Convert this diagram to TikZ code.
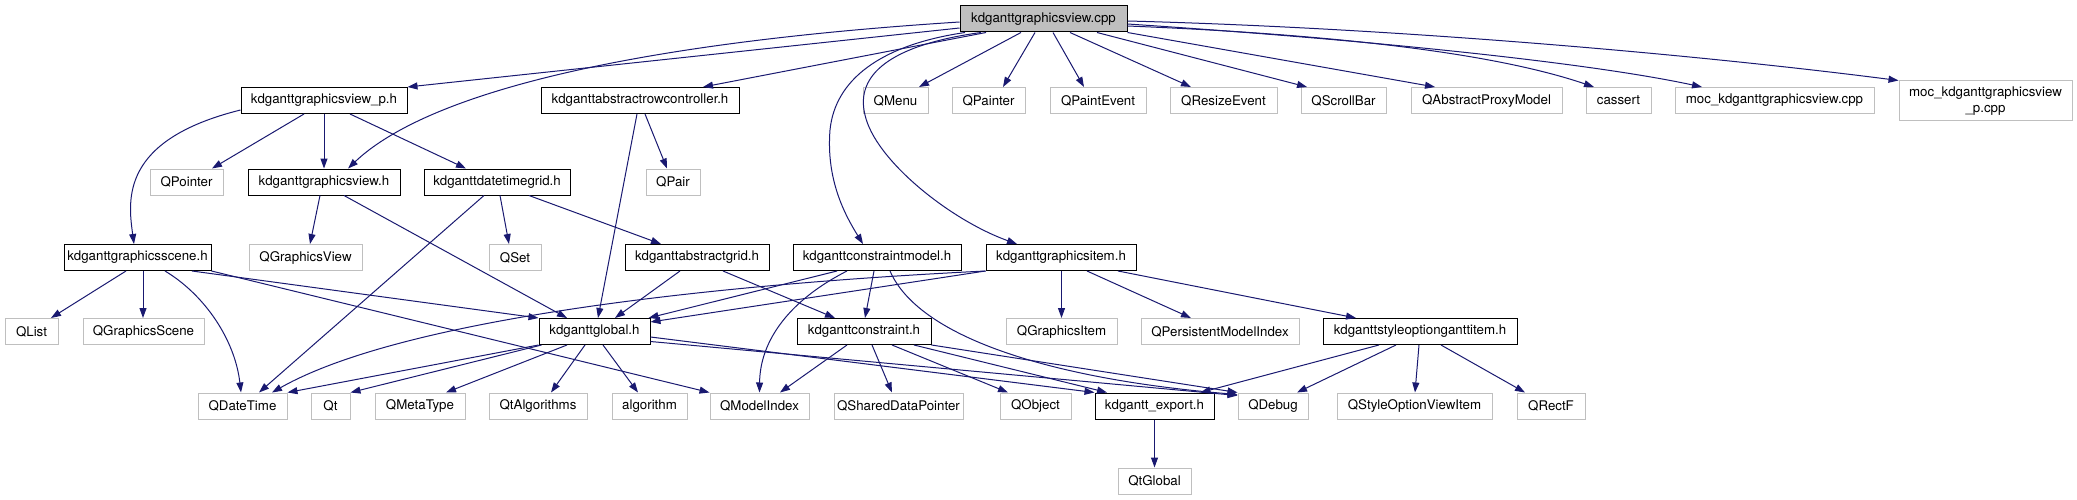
\documentclass[tikz,border=0pt]{standalone}
\usepackage{fontspec}
\setmainfont{TeX Gyre Heros}
\usetikzlibrary{arrows.meta}
\definecolor{edgeblue}{HTML}{191970}
\definecolor{extgray}{HTML}{BFBFBF}
\definecolor{rootgray}{HTML}{BFBFBF}
\newcommand\nodefont{\fontsize{13.3}{15.5}\selectfont}
\tikzset{
  box/.style={rectangle, minimum height=26pt, inner sep=0pt, font=\nodefont, line width=1pt, align=center},
  hdr/.style={box, draw=black},
  ext/.style={box, draw=extgray},
  root/.style={box, draw=black, fill=rootgray},
  edge/.style={draw=edgeblue, line width=1pt, -{Triangle[length=10pt,width=7pt]}}
}
\begin{document}
\begin{tikzpicture}[x=1pt,y=-1pt]
\useasboundingbox (0,0) rectangle (2077,500);
% row 0
\node[root, minimum width=167pt] (cpp) at (1043.5,19) {kdganttgraphicsview.cpp};
% row 1
\node[hdr, minimum width=166pt] (vp) at (324,100.5) {kdganttgraphicsview\_p.h};
\node[hdr, minimum width=198pt] (arc) at (640,100.5) {kdganttabstractrowcontroller.h};
\node[ext, minimum width=65pt] (qmenu) at (895.5,100.5) {QMenu};
\node[ext, minimum width=73pt] (qpainter) at (988.5,100.5) {QPainter};
\node[ext, minimum width=96pt] (qpaintevent) at (1098,100.5) {QPaintEvent};
\node[ext, minimum width=107pt] (qresize) at (1223.5,100.5) {QResizeEvent};
\node[ext, minimum width=85pt] (qscroll) at (1343.5,100.5) {QScrollBar};
\node[ext, minimum width=151pt] (qapm) at (1486.5,100.5) {QAbstractProxyModel};
\node[ext, minimum width=65pt] (cassert) at (1618.5,100.5) {cassert};
\node[ext, minimum width=199pt] (moc) at (1774.5,100.5) {moc\_kdganttgraphicsview.cpp};
\node[ext, minimum width=173pt, minimum height=40pt] (mocp) at (1985.5,101) {moc\_kdganttgraphicsview\\\_p.cpp};
% row 2
\node[ext, minimum width=73pt] (qpointer) at (186.5,182) {QPointer};
\node[hdr, minimum width=152pt] (gv) at (324,182) {kdganttgraphicsview.h};
\node[hdr, minimum width=146pt] (dtg) at (497,182) {kdganttdatetimegrid.h};
\node[ext, minimum width=54pt] (qpair) at (673,182) {QPair};
% row 3
\node[hdr, minimum width=147pt] (scene) at (137.5,257.5) {kdganttgraphicsscene.h};
\node[ext, minimum width=113pt] (qgv) at (305.5,257.5) {QGraphicsView};
\node[ext, minimum width=52pt] (qset) at (515,257.5) {QSet};
\node[hdr, minimum width=144pt] (ag) at (697,257.5) {kdganttabstractgrid.h};
\node[hdr, minimum width=168pt] (cm) at (877,257.5) {kdganttconstraintmodel.h};
\node[hdr, minimum width=150pt] (gi) at (1061,257.5) {kdganttgraphicsitem.h};
% row 4
\node[ext, minimum width=53pt] (qlist) at (31.5,331.5) {QList};
\node[ext, minimum width=121pt] (qgs) at (143.5,331.5) {QGraphicsScene};
\node[hdr, minimum width=111pt] (global) at (594.5,331.5) {kdganttglobal.h};
\node[hdr, minimum width=134pt] (c) at (864,331.5) {kdganttconstraint.h};
\node[ext, minimum width=111pt] (qgi) at (1061.5,331.5) {QGraphicsItem};
\node[ext, minimum width=158pt] (qpmi) at (1220,331.5) {QPersistentModelIndex};
\node[hdr, minimum width=194pt] (so) at (1420,331.5) {kdganttstyleoptionganttitem.h};
% row 5
\node[ext, minimum width=89pt] (qdt) at (242.5,406) {QDateTime};
\node[ext, minimum width=39pt] (qt) at (330.5,406) {Qt};
\node[ext, minimum width=90pt] (qmeta) at (420,406) {QMetaType};
\node[ext, minimum width=98pt] (qtalg) at (538,406) {QtAlgorithms};
\node[ext, minimum width=75pt] (algo) at (649.5,406) {algorithm};
\node[ext, minimum width=99pt] (qmi) at (759.5,406) {QModelIndex};
\node[ext, minimum width=129pt] (qsdp) at (898.5,406) {QSharedDataPointer};
\node[ext, minimum width=71pt] (qobject) at (1035.5,406) {QObject};
\node[hdr, minimum width=119pt] (export) at (1154.5,406) {kdgantt\_export.h};
\node[ext, minimum width=70pt] (qdebug) at (1273,406) {QDebug};
\node[ext, minimum width=155pt] (qsovi) at (1414.5,406) {QStyleOptionViewItem};
\node[ext, minimum width=68pt] (qrectf) at (1551,406) {QRectF};
% row 6
\node[ext, minimum width=73pt] (qtglobal) at (1154.5,481) {QtGlobal};

% edges from cpp
\draw[edge] ([yshift=-9pt]cpp.west) -- (vp.north east);
\draw[edge] ([yshift=-3pt]cpp.west) .. controls (600,45) and (420,100) .. ([xshift=24pt]gv.north);
\draw[edge] ([xshift=-57.5pt]cpp.south) -- ([xshift=63pt]arc.north);
\draw[edge] ([xshift=-78.5pt]cpp.south) .. controls (880,45) and (835,80) .. (830,130) .. controls (826,180) and (845,215) .. ([xshift=-14pt]cm.north);
\draw[edge] ([xshift=-62.5pt]cpp.south) .. controls (890,45) and (855,75) .. (865,115) .. controls (875,160) and (950,220) .. ([xshift=-44pt]gi.north);
\draw[edge] ([xshift=-22.5pt]cpp.south) -- ([xshift=23.5pt]qmenu.north);
\draw[edge] ([xshift=-8.5pt]cpp.south) -- ([xshift=14.5pt]qpainter.north);
\draw[edge] ([xshift=9.5pt]cpp.south) -- ([xshift=-14pt]qpaintevent.north);
\draw[edge] ([xshift=26.5pt]cpp.south) -- ([xshift=-32.5pt]qresize.north);
\draw[edge] ([xshift=53.5pt]cpp.south) -- ([xshift=-36.5pt]qscroll.north);
\draw[edge] (cpp.south east) -- ([xshift=-51.5pt]qapm.north);
\draw[edge] ([yshift=-7pt]cpp.east) .. controls (1350,35) and (1500,55) .. ([xshift=-24.5pt]cassert.north);
\draw[edge] ([yshift=-5pt]cpp.east) .. controls (1400,42) and (1600,65) .. ([xshift=-72.5pt]moc.north);
\draw[edge] ([yshift=-2pt]cpp.east) .. controls (1400,28) and (1700,55) .. (mocp.north west);
% edges from kdganttgraphicsview_p.h
\draw[edge] ([yshift=-9.5pt]vp.west) .. controls (120,140) and (128,200) .. ([xshift=-3.5pt]scene.north);
\draw[edge] ([xshift=-20pt]vp.south) -- ([xshift=25.5pt]qpointer.north);
\draw[edge] (vp.south) -- (gv.north);
\draw[edge] ([xshift=26pt]vp.south) -- ([xshift=-31pt]dtg.north);
% kdganttabstractrowcontroller.h
\draw[edge] ([xshift=-3pt]arc.south) -- ([xshift=3.5pt]global.north);
\draw[edge] ([xshift=5pt]arc.south) -- ([xshift=-6pt]qpair.north);
% kdganttgraphicsview.h
\draw[edge] ([xshift=-4pt]gv.south) -- ([xshift=4.5pt]qgv.north);
\draw[edge] ([xshift=20pt]gv.south) -- ([xshift=-27.5pt]global.north);
% kdganttdatetimegrid.h
\draw[edge] ([xshift=-13pt]dtg.south) -- ([xshift=16.5pt]qdt.north);
\draw[edge] ([xshift=3pt]dtg.south) -- ([xshift=-6pt]qset.north);
\draw[edge] ([xshift=32pt]dtg.south) -- ([xshift=-36pt]ag.north);
% kdganttgraphicsscene.h
\draw[edge] ([xshift=-11.5pt]scene.south) -- ([xshift=19.5pt]qlist.north);
\draw[edge] ([xshift=5.5pt]scene.south) -- ([xshift=-0.5pt]qgs.north);
\draw[edge] ([xshift=27.5pt]scene.south) .. controls (205,295) and (235,340) .. ([xshift=-1.5pt]qdt.north);
\draw[edge] ([xshift=54.5pt]scene.south) -- (global.north west);
\draw[edge] (scene.south east) -- (qmi.north west);
% kdganttabstractgrid.h
\draw[edge] ([xshift=-17pt]ag.south) -- ([xshift=20.5pt]global.north);
\draw[edge] ([xshift=26pt]ag.south) -- ([xshift=-29pt]c.north);
% kdganttconstraintmodel.h
\draw[edge] ([xshift=-40pt]cm.south) -- ([xshift=-2pt]global.north east);
\draw[edge] ([xshift=-30pt]cm.south) .. controls (790,300) and (760,340) .. (qmi.north);
\draw[edge] ([xshift=-3pt]cm.south) -- ([xshift=1pt]c.north);
\draw[edge] ([xshift=13pt]cm.south) .. controls (920,340) and (1060,380) .. ([yshift=-2pt]qdebug.north west);
% kdganttgraphicsitem.h
\draw[edge] (gi.south west) -- ([yshift=9.5pt]global.east);
\draw[edge] (gi.south west) .. controls (700,285) and (400,320) .. ([xshift=29.5pt]qdt.north);
\draw[edge] ([xshift=0.5pt]gi.south) -- (qgi.north);
\draw[edge] ([xshift=26pt]gi.south) -- ([xshift=-29pt]qpmi.north);
\draw[edge] ([xshift=57pt]gi.south) -- ([xshift=-64pt]so.north);
% kdganttglobal.h
\draw[edge] (global.south west) -- (qdt.north east);
\draw[edge] ([xshift=3pt]global.south west) -- (qt.north east);
\draw[edge] ([xshift=-27.5pt]global.south) -- ([xshift=26pt]qmeta.north);
\draw[edge] ([xshift=-9.5pt]global.south) -- ([xshift=13pt]qtalg.north);
\draw[edge] ([xshift=8.5pt]global.south) -- ([xshift=-11.5pt]algo.north);
\draw[edge] ([yshift=-5.5pt]global.east) -- (export.north west);
\draw[edge] ([yshift=-10pt]global.east) -- ([yshift=-3pt]qdebug.north west);
% kdganttconstraint.h
\draw[edge] ([xshift=-17pt]c.south) -- ([xshift=20.5pt]qmi.north);
\draw[edge] ([xshift=8pt]c.south) -- ([xshift=-6.5pt]qsdp.north);
\draw[edge] ([xshift=28pt]c.south) -- ([xshift=-27.5pt]qobject.north);
\draw[edge] ([xshift=50pt]c.south) -- ([xshift=-47.5pt]export.north);
\draw[edge] (c.south east) -- (qdebug.north west);
% kdganttstyleoptionganttitem.h
\draw[edge] ([xshift=-41pt]so.south) -- ([xshift=-14pt]export.north east);
\draw[edge] ([xshift=-24pt]so.south) -- ([xshift=24pt]qdebug.north);
\draw[edge] ([xshift=-1pt]so.south) -- ([xshift=0.5pt]qsovi.north);
\draw[edge] ([xshift=21pt]so.south) -- ([xshift=-26pt]qrectf.north);
% kdgantt_export.h
\draw[edge] (export.south) -- (qtglobal.north);
\end{tikzpicture}
\end{document}
